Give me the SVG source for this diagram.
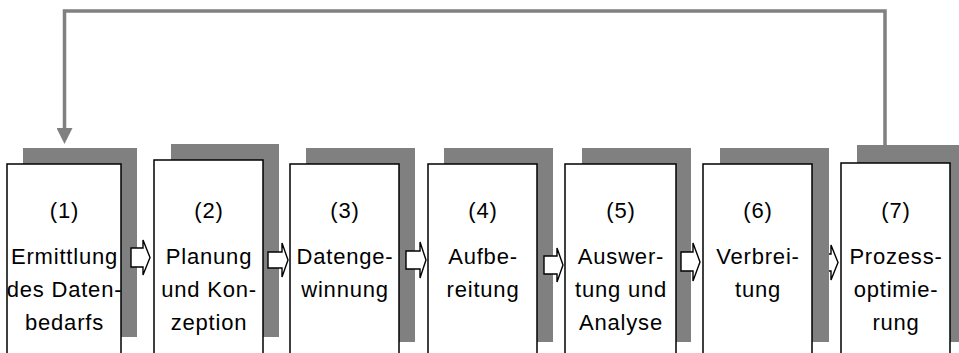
<svg xmlns="http://www.w3.org/2000/svg" width="959" height="353" viewBox="0 0 959 353">
<style>
.sh{fill:#808080}
.bx{fill:#fff;stroke:#000;stroke-width:1.5}
.t{font-family:"Liberation Sans",Arial,sans-serif;font-size:22px;letter-spacing:0.8px;text-anchor:middle;fill:#000}
.ar{fill:#fff;stroke:#000;stroke-width:1.4;stroke-linejoin:miter}
.fb{fill:none;stroke:#808080;stroke-width:3.5}
</style>
<defs>
<marker id="ah" markerUnits="userSpaceOnUse" markerWidth="16" markerHeight="16" refX="0" refY="8" orient="auto" viewBox="0 0 16 16">
<path d="M0,0 L16,8 L0,16 Z" fill="#808080"/>
</marker>
</defs>
<rect width="959" height="353" fill="#fff"/>
<g id="node1">
<rect class="sh" x="23" y="148" width="114" height="189"/>
<rect class="bx" x="7" y="164" width="114" height="200"/>
<text class="t" x="64.5" y="218">(1)</text>
<text class="t" x="64.5" y="264">Ermittlung</text>
<text class="t" x="64.5" y="297">des Daten-</text>
<text class="t" x="64.5" y="330">bedarfs</text>
</g>
<g id="node2">
<rect class="sh" x="171" y="144" width="108" height="193"/>
<rect class="bx" x="154" y="160" width="109" height="204"/>
<text class="t" x="209" y="218">(2)</text>
<text class="t" x="209" y="264">Planung</text>
<text class="t" x="209" y="297">und Kon-</text>
<text class="t" x="209" y="330">zeption</text>
</g>
<g id="node3">
<rect class="sh" x="306" y="148" width="109" height="194"/>
<rect class="bx" x="290" y="164" width="109" height="200"/>
<text class="t" x="345" y="218">(3)</text>
<text class="t" x="345" y="264">Datenge-</text>
<text class="t" x="345" y="297">winnung</text>
</g>
<g id="node4">
<rect class="sh" x="444" y="148" width="109" height="194"/>
<rect class="bx" x="428" y="164" width="109" height="200"/>
<text class="t" x="483" y="218">(4)</text>
<text class="t" x="483" y="264">Aufbe-</text>
<text class="t" x="483" y="297">reitung</text>
</g>
<g id="node5">
<rect class="sh" x="582" y="148" width="109" height="194"/>
<rect class="bx" x="565" y="164" width="111" height="200"/>
<text class="t" x="621" y="218">(5)</text>
<text class="t" x="621" y="264">Auswer-</text>
<text class="t" x="621" y="297">tung und</text>
<text class="t" x="621" y="330">Analyse</text>
</g>
<g id="connectors">
<path class="fb" d="M885,150 V11 H64.5 V128" marker-end="url(#ah)"/>
<path class="ar" d="M131,248 H143 V240 L150,257.5 L143,275 V267 H131 Z"/>
<path class="ar" d="M268,252 H282 V243 L288,260 L282,277 V268 H268 Z"/>
<path class="ar" d="M406,251 H420 V242 L426,260 L420,278 V269 H406 Z"/>
<path class="ar" d="M544,256 H557 V248 L563,265 L557,282 V274 H544 Z"/>
<path class="ar" d="M681,252 H693 V243 L700,262 L693,281 V271 H681 Z"/>
<path class="ar" d="M818,254 H831 V245 L838,262.5 L831,280 V271 H818 Z"/>
</g>
<g id="node6">
<rect class="sh" x="720" y="148" width="109" height="194"/>
<rect class="bx" x="703" y="164" width="109" height="200"/>
<text class="t" x="758" y="218">(6)</text>
<text class="t" x="758" y="264">Verbrei-</text>
<text class="t" x="758" y="297">tung</text>
</g>
<g id="node7">
<rect class="sh" x="857" y="145" width="110" height="197"/>
<rect class="bx" x="841" y="163" width="109" height="201"/>
<text class="t" x="896" y="218">(7)</text>
<text class="t" x="896" y="264">Prozess-</text>
<text class="t" x="896" y="297">optimie-</text>
<text class="t" x="896" y="330">rung</text>
</g>
</svg>
